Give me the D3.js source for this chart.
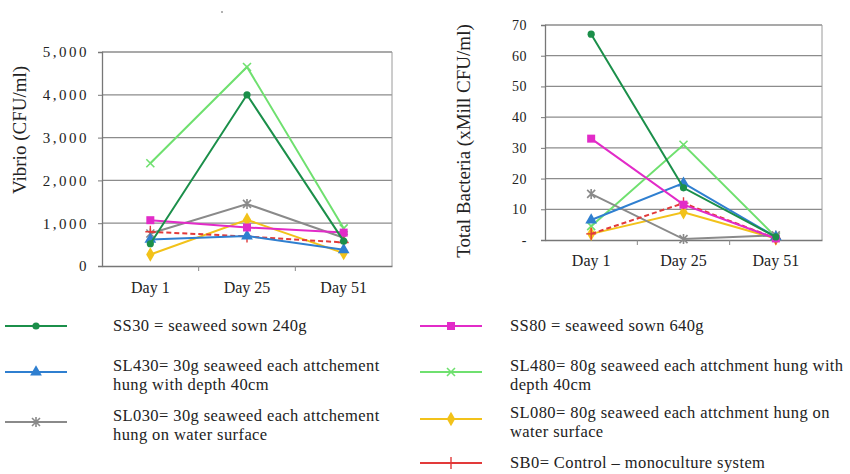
<!DOCTYPE html>
<html>
<head>
<meta charset="utf-8">
<script src="https://cdn.jsdelivr.net/npm/d3@7/dist/d3.min.js"></script>
<style>
  body { margin: 0; background: #fff; }
  svg { display: block; }
  svg text { font-family: "Liberation Serif", "Times New Roman", Tinos, "DejaVu Serif", serif; fill: #222; }
</style>
</head>
<body>
<svg id="chart" width="850" height="474"></svg>
<script>
// Sampling days
const days = ["Day 1", "Day 25", "Day 51"];

// Treatments
const seriesNames = ["SS30", "SL430", "SL030", "SS80", "SL480", "SL080", "SB0"];

// Vibrio counts (CFU/ml) per treatment, one value per day
const vibrioSS30  = [520, 4000, 580];
const vibrioSL430 = [620, 700, 380];
const vibrioSL030 = [760, 1450, 660];
const vibrioSS80  = [1070, 900, 780];
const vibrioSL480 = [2400, 4650, 880];
const vibrioSL080 = [270, 1080, 300];
const vibrioSB0   = [800, 690, 550];

// Total bacteria (x million CFU/ml) per treatment, one value per day
const bactSS30  = [67, 17, 1];
const bactSL430 = [6.5, 18.5, 1];
const bactSL030 = [15, 0.3, 1.5];
const bactSS80  = [33, 11.5, 0.5];
const bactSL480 = [4.5, 31, 1];
const bactSL080 = [2, 9, 0.5];
const bactSB0   = [2, 12, 0.5];

// Axis ticks
const vibrioTicks = [0, 1000, 2000, 3000, 4000, 5000];
const bactTicks = [0, 10, 20, 30, 40, 50, 60, 70];

// Legend captions (two lines where wrapped)
const legendText = {
  SS30:  ["SS30 = seaweed sown 240g"],
  SL430: ["SL430= 30g seaweed each attchement", "hung with depth 40cm"],
  SL030: ["SL030= 30g seaweed each attchement", "hung on water surface"],
  SS80:  ["SS80 = seaweed sown 640g"],
  SL480: ["SL480= 80g seaweed each attchment hung with", "depth 40cm"],
  SL080: ["SL080= 80g seaweed each attchment hung on", "water surface"],
  SB0:   ["SB0= Control \u2013 monoculture system"]
};

const style = {
  SS30:  { color: "#1b8f4a", marker: "circle",   dash: null },
  SL430: { color: "#2f7fd0", marker: "triangle", dash: null },
  SL030: { color: "#8a8a8a", marker: "star",     dash: null },
  SS80:  { color: "#e22bc8", marker: "square",   dash: null },
  SL480: { color: "#6fe06f", marker: "cross",    dash: null },
  SL080: { color: "#f2c21a", marker: "diamond",  dash: null },
  SB0:   { color: "#e23a3a", marker: "plus",     dash: "5,3" }
};

const vibrio = {
  SS30: vibrioSS30, SL430: vibrioSL430, SL030: vibrioSL030, SS80: vibrioSS80,
  SL480: vibrioSL480, SL080: vibrioSL080, SB0: vibrioSB0
};
const bacteria = {
  SS30: bactSS30, SL430: bactSL430, SL030: bactSL030, SS80: bactSS80,
  SL480: bactSL480, SL080: bactSL080, SB0: bactSB0
};

// Drawing order, back to front
const drawOrder = ["SL480", "SL080", "SL030", "SB0", "SL430", "SS80", "SS30"];

const svg = d3.select("#chart");

function drawMarker(g, type, x, y, color) {
  const s = 4;
  if (type === "circle") {
    g.append("circle").attr("cx", x).attr("cy", y).attr("r", 3.6).attr("fill", color);
  } else if (type === "square") {
    g.append("rect").attr("x", x - s).attr("y", y - s).attr("width", 2 * s).attr("height", 2 * s).attr("fill", color);
  } else if (type === "triangle") {
    g.append("path").attr("d", d3.symbol(d3.symbolTriangle, 60)()).attr("transform", `translate(${x},${y})`).attr("fill", color);
  } else if (type === "diamond") {
    g.append("path").attr("d", d3.symbol(d3.symbolDiamond, 60)()).attr("transform", `translate(${x},${y})`).attr("fill", color);
  } else if (type === "cross") {
    g.append("path").attr("d", `M${x - s},${y - s}L${x + s},${y + s}M${x - s},${y + s}L${x + s},${y - s}`)
      .attr("stroke", color).attr("stroke-width", 1.6);
  } else if (type === "plus") {
    g.append("path").attr("d", `M${x - 5},${y}L${x + 5},${y}M${x},${y - 6}L${x},${y + 6}`)
      .attr("stroke", color).attr("stroke-width", 1.4);
  } else if (type === "star") {
    g.append("path").attr("d", `M${x - s},${y - s}L${x + s},${y + s}M${x - s},${y + s}L${x + s},${y - s}M${x},${y - s - 1}L${x},${y + s + 1}`)
      .attr("stroke", color).attr("stroke-width", 1.6);
  }
}

function drawPanel(opts) {
  const { left, right, top, bottom, domainMax, ticks, data, tickFormat, title, titleX,
          tickPad, labelPad, tickSpacing, tickFont } = opts;
  const g = svg.append("g");
  const x = d3.scaleBand().domain(days).range([left, right]);
  const y = d3.scaleLinear().domain([0, domainMax]).range([bottom, top]);

  // horizontal gridlines
  g.selectAll("line.grid").data(ticks.filter(t => t > 0)).join("line")
    .attr("x1", left).attr("x2", right)
    .attr("y1", d => y(d)).attr("y2", d => y(d))
    .attr("stroke", "#8c8c8c").attr("stroke-width", 1.3);

  // right frame edge
  g.append("line").attr("x1", right).attr("x2", right).attr("y1", top).attr("y2", bottom)
    .attr("stroke", "#9a9a9a").attr("stroke-width", 1);

  // y axis
  const yAxis = g.append("g").attr("transform", `translate(${left},0)`)
    .call(d3.axisLeft(y).tickValues(ticks).tickSize(4).tickPadding(tickPad).tickFormat(tickFormat));
  yAxis.attr("font-family", null).attr("font-size", null);
  yAxis.select(".domain").attr("stroke", "#777").attr("stroke-width", 1.3);
  yAxis.selectAll(".tick line").attr("stroke", "#777");
  yAxis.selectAll(".tick text")
    .style("font-size", tickFont + "px").style("letter-spacing", tickSpacing + "px").attr("fill", "#333");

  // x axis
  const xAxis = g.append("g").attr("transform", `translate(0,${bottom})`)
    .call(d3.axisBottom(x).tickSize(0).tickPadding(labelPad));
  xAxis.attr("font-family", null).attr("font-size", null);
  xAxis.select(".domain").attr("stroke", "#777").attr("stroke-width", 1.5);
  xAxis.selectAll(".tick text").style("font-size", "16px").attr("fill", "#333");
  // category separators
  g.selectAll("line.sep").data(days.slice(1)).join("line")
    .attr("x1", d => x(d)).attr("x2", d => x(d))
    .attr("y1", bottom).attr("y2", bottom + 5)
    .attr("stroke", "#888");

  // series lines and markers
  const line = d3.line().x((d, i) => x(days[i]) + x.bandwidth() / 2).y(d => y(d));
  drawOrder.forEach(name => {
    const st = style[name];
    g.append("path").datum(data[name])
      .attr("d", line)
      .attr("fill", "none")
      .attr("stroke", st.color)
      .attr("stroke-width", 2)
      .attr("stroke-dasharray", st.dash);
    data[name].forEach((v, i) => {
      drawMarker(g, st.marker, x(days[i]) + x.bandwidth() / 2, y(v), st.color);
    });
  });

  // y axis title
  g.append("text")
    .attr("transform", `translate(${titleX},${opts.titleY}) rotate(-90)`)
    .attr("text-anchor", "middle")
    .attr("dominant-baseline", "middle")
    .style("font-size", "19px")
    .text(title);
}

drawPanel({
  left: 102, right: 392, top: 52, bottom: 266,
  domainMax: 5000, ticks: vibrioTicks, data: vibrio,
  tickFormat: d3.format(","), title: "Vibrio (CFU/ml)", titleX: 22, titleY: 130,
  tickPad: 9, labelPad: 16, tickSpacing: 2.5, tickFont: 15
});

drawPanel({
  left: 545, right: 822, top: 25, bottom: 240,
  domainMax: 70, ticks: bactTicks, data: bacteria,
  tickFormat: d => d === 0 ? "-" : d, title: "Total Bacteria (xMill CFU/ml)", titleX: 466, titleY: 141,
  tickPad: 14, labelPad: 15, tickSpacing: 0.5, tickFont: 14
});

// small stray dot above the left panel
svg.append("circle").attr("cx", 222).attr("cy", 12).attr("r", 1).attr("fill", "#999");

// legend
const legendLayout = [
  { name: "SS30",  lx: 5,   tx: 113, y: 326 },
  { name: "SL430", lx: 5,   tx: 113, y: 372 },
  { name: "SL030", lx: 5,   tx: 113, y: 422 },
  { name: "SS80",  lx: 420, tx: 510, y: 326 },
  { name: "SL480", lx: 420, tx: 510, y: 372 },
  { name: "SL080", lx: 420, tx: 510, y: 419 },
  { name: "SB0",   lx: 420, tx: 510, y: 463 }
];
const leg = svg.append("g");
legendLayout.forEach(item => {
  const st = style[item.name];
  leg.append("line").attr("x1", item.lx).attr("x2", item.lx + 62)
    .attr("y1", item.y).attr("y2", item.y)
    .attr("stroke", st.color).attr("stroke-width", 2);
  drawMarker(leg, st.marker, item.lx + 31, item.y, st.color);
  const lines = legendText[item.name];
  const startY = lines.length === 1 ? item.y + 1 : item.y - 5;
  lines.forEach((t, i) => {
    leg.append("text").attr("x", item.tx).attr("y", startY + i * 19)
      .attr("dominant-baseline", "middle")
      .style("font-size", "16.5px").style("letter-spacing", "0.4px")
      .text(t);
  });
});
</script>
</body>
</html>
